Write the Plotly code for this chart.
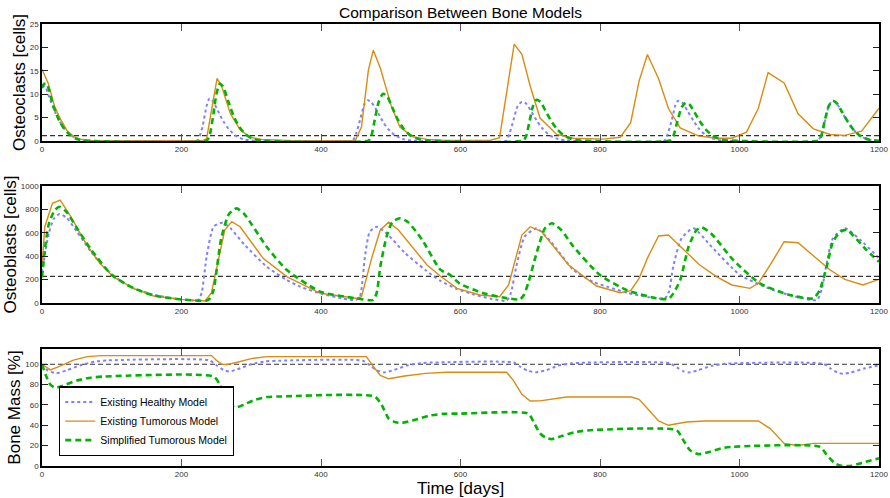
import plotly.graph_objects as go
from plotly.subplots import make_subplots

# ---------------- Osteoclasts ----------------
oc_healthy_days = [0, 5, 10, 15, 20, 25, 30, 40, 50, 60, 70, 220,
                   224, 230, 236, 240, 245, 252, 260, 268, 278, 290, 305, 445,
                   450, 456, 462, 467, 472, 480, 488, 496, 506, 518, 530, 665,
                   670, 676, 682, 688, 694, 702, 710, 718, 728, 740, 752, 892,
                   897, 903, 908, 912, 918, 926, 934, 942, 952, 964, 976, 1112,
                   1118, 1123, 1128, 1133, 1139, 1147, 1155, 1163, 1173, 1185, 1200]
oc_healthy = [12, 11.5, 9.5, 7.5, 5.8, 4.3, 3.0, 1.4, 0.5, 0.15, 0.05, 0.0,
              0.3, 3.0, 7.5, 9.1, 8.5, 6.5, 4.2, 2.5, 1.1, 0.3, 0.05, 0.05,
              1.5, 4.5, 7.8, 8.7, 8.3, 6.5, 4.3, 2.6, 1.2, 0.4, 0.1, 0.05,
              1.5, 4.5, 7.5, 8.4, 8.0, 6.2, 4.2, 2.6, 1.2, 0.4, 0.1, 0.05,
              1.5, 4.5, 7.6, 8.6, 8.2, 6.3, 4.3, 2.6, 1.2, 0.4, 0.1, 0.05,
              1.5, 4.5, 7.5, 8.6, 8.1, 6.1, 4.1, 2.5, 1.1, 0.3, 0.05]

oc_tumor_days = [0, 9, 18, 27, 36, 45, 55, 70, 90, 230, 236, 251, 258, 270, 284,
                 299, 315, 335, 360, 449, 458, 468, 475, 485, 501, 513, 532, 552,
                 580, 642, 656, 677, 688, 700, 714, 738, 762, 805, 829, 844, 856,
                 868, 884, 898, 915, 941, 967, 989, 1010, 1027, 1041, 1064, 1084,
                 1106, 1130, 1151, 1175, 1200]
oc_tumor = [15.3, 12.3, 7.4, 4.5, 2.2, 1.0, 0.4, 0.1, 0.05, 0.05, 0.5, 13.4, 11.5, 5.9, 2.4,
            0.75, 0.35, 0.15, 0.05, 0.05, 3.0, 15.2, 19.4, 15.6, 7.4, 3.0, 0.9, 0.35,
            0.1, 0.1, 0.7, 20.7, 18.5, 11.7, 4.9, 1.4, 0.6, 0.4, 0.8, 3.9, 12.8,
            18.5, 13.3, 7.0, 2.8, 1.1, 0.6, 0.6, 1.9, 7.0, 14.6, 12.4, 5.8,
            2.6, 1.4, 1.2, 2.1, 7.0]

oc_simple_days = [0, 3, 6, 10, 15, 20, 25, 30, 40, 50, 60, 70, 236,
                  240, 245, 250, 255, 260, 267, 274, 282, 292, 302, 315, 468,
                  472, 477, 483, 489, 495, 502, 510, 518, 528, 540, 552, 690,
                  694, 699, 704, 709, 715, 722, 730, 738, 748, 760, 772, 900,
                  905, 911, 917, 923, 929, 936, 944, 952, 962, 974, 986, 1113,
                  1117, 1122, 1128, 1134, 1140, 1147, 1155, 1163, 1173, 1185, 1200]
oc_simple = [11.3, 12.2, 12.3, 11.0, 8.0, 6.0, 4.3, 3.0, 1.3, 0.4, 0.1, 0.0, 0.1,
             1.0, 5.0, 10.0, 12.3, 11.5, 8.5, 5.6, 3.2, 1.4, 0.5, 0.1, 0.1,
             1.0, 4.5, 8.5, 10.1, 9.5, 7.2, 4.6, 2.7, 1.2, 0.4, 0.1, 0.1,
             1.0, 4.2, 7.5, 8.8, 8.3, 6.4, 4.3, 2.6, 1.2, 0.4, 0.1, 0.1,
             1.0, 4.2, 7.2, 8.2, 7.7, 6.0, 4.0, 2.4, 1.1, 0.3, 0.1, 0.1,
             1.0, 4.2, 7.5, 8.6, 8.0, 6.2, 4.2, 2.5, 1.1, 0.3, 0.05]

oc_threshold = 1.15

# ---------------- Osteoblasts ----------------
ob_healthy_days = [0, 5, 10, 17, 25, 35, 50, 70, 90, 110, 130, 160, 190, 215, 224,
                   229, 236, 246, 259, 270, 290, 322, 350, 370, 400, 430, 450, 456,
                   463, 470, 480, 495, 520, 550, 571, 595, 618, 645, 666, 672, 680,
                   692, 709, 730, 762, 790, 810, 840, 870, 893, 899, 905, 917, 934,
                   960, 1001, 1048, 1080, 1111, 1118, 1125, 1134, 1151, 1175, 1200]
ob_healthy = [260, 450, 600, 720, 760, 730, 610, 440, 300, 200, 130, 70, 38, 22, 25,
              90, 396, 652, 686, 640, 500, 311, 200, 140, 80, 40, 25, 60,
              396, 610, 652, 590, 430, 280, 190, 120, 75, 35, 20, 80, 311,
              567, 638, 520, 282, 180, 140, 85, 50, 40, 100, 311, 553, 638,
              480, 239, 111, 55, 26, 120, 339, 553, 638, 530, 382]

ob_tumor_days = [0, 4, 15, 26, 40, 64, 83, 102, 131, 160, 198, 234, 243, 255, 262, 272,
                 284, 317, 351, 399, 450, 458, 473, 485, 497, 511, 552, 571, 595, 628,
                 656, 669, 688, 700, 716, 755, 795, 829, 844, 856, 869, 884, 898, 943,
                 967, 989, 1015, 1027, 1044, 1064, 1084, 1130, 1151, 1177, 1200]
ob_tumor = [311, 652, 852, 880, 752, 496, 339, 225, 125, 60, 31, 17, 88, 425, 624, 695,
            652, 382, 225, 83, 40, 54, 390, 624, 690, 624, 325, 231, 125, 68,
            54, 154, 581, 652, 610, 325, 145, 88, 105, 211, 396, 573, 581, 325,
            225, 154, 125, 168, 325, 524, 515, 282, 202, 154, 202]

ob_simple_days = [0, 5, 10, 18, 25, 35, 50, 70, 100, 130, 160, 200, 235, 241, 246, 257,
                  268, 279, 290, 322, 351, 399, 450, 475, 480, 485, 494, 502, 513, 525,
                  545, 571, 585, 599, 633, 662, 685, 691, 697, 709, 721, 731, 745, 762,
                  800, 838, 881, 898, 905, 915, 927, 938, 946, 960, 991, 1029, 1072,
                  1106, 1115, 1125, 1134, 1145, 1154, 1182, 1200]
ob_simple = [220, 500, 680, 790, 823, 780, 640, 460, 240, 130, 65, 30, 20, 40, 111, 553,
             760, 809, 760, 481, 282, 97, 40, 26, 90, 311, 567, 690, 724, 690,
             540, 285, 240, 165, 83, 46, 31, 70, 168, 425, 638, 681, 620, 481,
             239, 111, 40, 34, 80, 196, 481, 620, 646, 590, 368, 168, 68,
             40, 110, 311, 524, 610, 624, 453, 353]

ob_threshold = 228

# ---------------- Bone mass ----------------
bm_healthy_days = [0, 8, 20, 35, 55, 75, 95, 240, 250, 260, 268, 280, 300, 320, 340,
                   460, 470, 480, 490, 505, 525, 545, 560, 676, 686, 697, 709, 722,
                   740, 760, 900, 910, 920, 927, 940, 960, 980, 1120, 1130, 1140,
                   1149, 1160, 1180, 1200]
bm_healthy = [100, 94, 91.2, 94, 99, 102.5, 103.8, 103.8, 99, 94.5, 93, 95, 100, 102.8, 103.5,
              103.5, 99, 94, 92, 94.5, 99, 101.2, 101.7, 101.7, 97.5, 93.5, 92.2, 94,
              98.5, 101, 101, 97, 93, 92, 94, 98.5, 100.5, 100.5, 96, 92,
              90.6, 92, 96, 99]

bm_tumor_days = [0, 12, 25, 45, 65, 85, 243, 250, 258, 265, 280, 300, 322, 465, 475, 485,
                 497, 520, 550, 580, 666, 676, 688, 700, 714, 735, 752, 845, 856, 870,
                 884, 898, 924, 950, 1027, 1044, 1064, 1082, 1106, 1200]
bm_tumor = [100, 94.5, 98, 104, 107.5, 108.5, 108.5, 104, 100, 99.7, 102, 105.5, 107.5, 107.5, 98, 89,
            85.7, 88.5, 91, 92.2, 92.2, 84, 70.4, 63.9, 64, 66.5, 67.8, 67.8, 65.5, 55,
            44.3, 40, 43.3, 44.3, 44.3, 36.8, 22.2, 20.2, 22.2, 22.2]

bm_simple_days = [0, 5, 12, 19, 30, 50, 70, 90, 246, 255, 265, 277, 290, 305, 322, 340,
                  477, 487, 497, 507, 516, 535, 555, 575, 600, 697, 705, 714, 722, 731,
                  745, 765, 786, 910, 918, 929, 941, 955, 975, 991, 1115, 1125, 1137,
                  1146, 1161, 1180, 1200]
bm_simple = [100, 90, 80, 76.9, 79, 84, 86.8, 88, 88, 80, 62.9, 57.4, 60.5, 65, 67.8, 68.3,
             68.3, 60, 46.6, 43, 42.4, 45.5, 49.5, 51.2, 51.5, 51.5, 43, 32, 28, 26.4,
             29.5, 33.5, 35.2, 35.2, 27, 15.6, 11.7, 13.5, 17.5, 18.9, 18.9, 11, 2.6,
             0.3, 0.3, 4, 7.5]

bm_threshold = 100

x_ticks = [0, 200, 400, 600, 800, 1000, 1200]
names = ["Existing Healthy Model", "Existing Tumorous Model", "Simplified Tumorous Model"]

C_BLUE = "#7f7fff"
C_ORANGE = "#d98c12"
C_GREEN = "#00b400"

fig = make_subplots(rows=3, cols=1, shared_xaxes=False, vertical_spacing=0.1)

panels = [
    (oc_healthy_days, oc_healthy, oc_tumor_days, oc_tumor, oc_simple_days, oc_simple, oc_threshold),
    (ob_healthy_days, ob_healthy, ob_tumor_days, ob_tumor, ob_simple_days, ob_simple, ob_threshold),
    (bm_healthy_days, bm_healthy, bm_tumor_days, bm_tumor, bm_simple_days, bm_simple, bm_threshold),
]

for i, (hd, hv, td, tv, sd, sv, thr) in enumerate(panels):
    row = i + 1
    show = (row == 3)
    fig.add_trace(go.Scatter(x=[0, 1200], y=[thr, thr], mode="lines",
                             line=dict(color="#333333", width=1.2, dash="5px,3px"),
                             showlegend=False, hoverinfo="skip"), row=row, col=1)
    fig.add_trace(go.Scatter(x=hd, y=hv, mode="lines", name=names[0], legendrank=1,
                             line=dict(color=C_BLUE, width=2, dash="dot", shape="spline", smoothing=0.6),
                             showlegend=show), row=row, col=1)
    fig.add_trace(go.Scatter(x=td, y=tv, mode="lines", name=names[1], legendrank=2,
                             line=dict(color=C_ORANGE, width=1.4),
                             showlegend=show), row=row, col=1)
    fig.add_trace(go.Scatter(x=sd, y=sv, mode="lines", name=names[2], legendrank=3,
                             line=dict(color=C_GREEN, width=2.6, dash="6px,4px", shape="spline", smoothing=0.6),
                             showlegend=show), row=row, col=1)

# domains (pixel-derived)
doms = [[0.7353, 1.0], [0.3688, 0.6335], [0.0, 0.2647]]
ranges = [[0, 25], [0, 1000], [0, 115]]
dticks = [[0, 5, 10, 15, 20, 25], [0, 200, 400, 600, 800, 1000], [0, 20, 40, 60, 80, 100]]
ytitles = ["Osteoclasts [cells]", "Osteoblasts [cells]", "Bone Mass [%]"]

tickfont = dict(family="Arial", size=8, color="#333333")
for i in range(3):
    r = i + 1
    fig.update_yaxes(row=r, col=1, domain=doms[i], range=ranges[i], tickvals=dticks[i],
                     ticks="inside", ticklen=6, tickwidth=1.3, tickcolor="#222",
                     showline=True, linecolor="black", linewidth=1.6, mirror="ticks",
                     showgrid=False, zeroline=False, tickfont=tickfont, automargin=False,
                     title=dict(text=ytitles[i], font=dict(family="Arial", size=17, color="black"),
                                standoff=0))
    fig.update_xaxes(row=r, col=1, range=[0, 1200], tickvals=x_ticks,
                     ticks="inside", ticklen=7, tickwidth=1.3, tickcolor="#555",
                     showline=True, linecolor="black", linewidth=1.6, mirror="ticks",
                     showgrid=False, zeroline=False, tickfont=tickfont, automargin=False)

fig.update_xaxes(row=3, col=1, title=dict(text="Time [days]", font=dict(family="Arial", size=17, color="black"),
                                         standoff=0))

fig.update_layout(
    width=890, height=498,
    margin=dict(l=42, r=11, t=24, b=32),
    paper_bgcolor="white", plot_bgcolor="white",
    title=dict(text="Comparison Between Bone Models", x=0.5, xref="paper", y=0.985, yanchor="top",
               font=dict(family="Arial", size=15.5, color="black")),
    font=dict(family="Arial"),
    legend=dict(x=0.0203, y=0.022, xanchor="left", yanchor="bottom",
                bgcolor="white", bordercolor="black", borderwidth=1.3,
                font=dict(family="Arial", size=10.5, color="black"),
                tracegroupgap=0, itemwidth=30),
    showlegend=True,
)

fig.write_html("out.html")
